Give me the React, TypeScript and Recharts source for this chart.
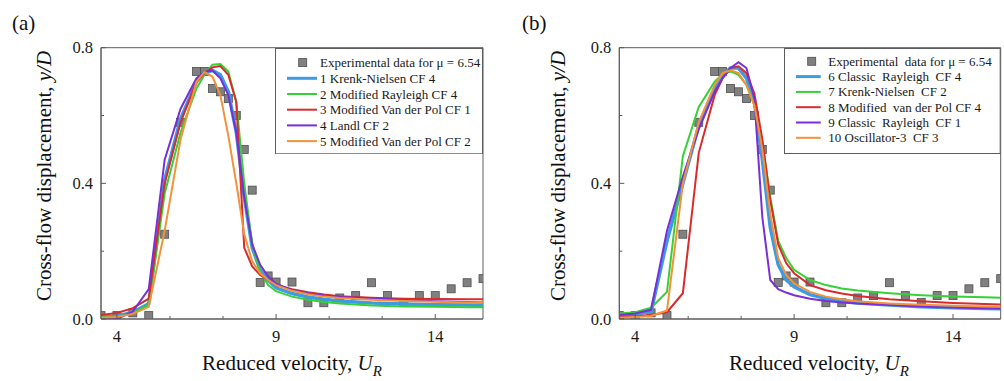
import React from "react";
import { ComposedChart, Line, Scatter, XAxis, YAxis, ReferenceArea, Legend } from "recharts";

// reduced velocity grid used by the model curves
const UR = [3.5, 4, 4.5, 5, 5.5, 6, 6.5, 6.75, 7, 7.25, 7.5, 7.75, 8, 8.25, 8.5, 8.75, 9, 9.5, 10, 10.5, 11, 12, 13, 14, 15, 15.5];

// experimental points (mu = 6.54)
const expUR = [3.5, 4, 4.5, 5, 5.5, 6, 6.5, 6.75, 7, 7.25, 7.5, 7.75, 8, 8.25, 8.5, 8.75, 9, 9.5, 10, 10.5, 11, 11.5, 12, 12.5, 13, 13.5, 14, 14.5, 15, 15.5];
const expY = [0.01, 0.01, 0.018, 0.01, 0.25, 0.58, 0.73, 0.73, 0.68, 0.67, 0.65, 0.6, 0.5, 0.38, 0.108, 0.127, 0.109, 0.109, 0.048, 0.048, 0.062, 0.069, 0.107, 0.069, 0.049, 0.069, 0.069, 0.089, 0.107, 0.119];

// panel (a)
const a1 = [0.006, 0.008, 0.02, 0.045, 0.41, 0.59, 0.7, 0.725, 0.733, 0.72, 0.67, 0.55, 0.36, 0.21, 0.145, 0.115, 0.092, 0.075, 0.065, 0.058, 0.053, 0.047, 0.044, 0.042, 0.041, 0.04];
const a2 = [0.005, 0.007, 0.018, 0.042, 0.37, 0.55, 0.68, 0.72, 0.75, 0.752, 0.73, 0.64, 0.4, 0.22, 0.14, 0.1, 0.082, 0.066, 0.057, 0.05, 0.046, 0.04, 0.037, 0.036, 0.035, 0.035];
const a3 = [0.012, 0.018, 0.032, 0.06, 0.4, 0.58, 0.7, 0.725, 0.742, 0.746, 0.72, 0.64, 0.21, 0.155, 0.13, 0.115, 0.1, 0.088, 0.079, 0.072, 0.067, 0.063, 0.06, 0.059, 0.058, 0.058];
const a4 = [0, 0, 0.022, 0.088, 0.47, 0.62, 0.71, 0.728, 0.733, 0.71, 0.66, 0.55, 0.36, 0.22, 0.16, 0.125, 0.104, 0.085, 0.076, 0.069, 0.065, 0.061, 0.056, 0.052, 0.05, 0.049];
const a5 = [0.004, 0.006, 0.015, 0.036, 0.26, 0.53, 0.7, 0.728, 0.715, 0.66, 0.54, 0.4, 0.25, 0.17, 0.135, 0.115, 0.1, 0.083, 0.073, 0.066, 0.062, 0.057, 0.053, 0.051, 0.049, 0.049];

// panel (b)
const b6 = [0.01, 0.014, 0.022, 0.23, 0.4, 0.57, 0.68, 0.72, 0.74, 0.74, 0.71, 0.64, 0.47, 0.27, 0.16, 0.115, 0.095, 0.072, 0.06, 0.052, 0.047, 0.041, 0.036, 0.033, 0.031, 0.03];
const b7 = [0.016, 0.02, 0.033, 0.08, 0.48, 0.625, 0.7, 0.722, 0.73, 0.72, 0.69, 0.63, 0.52, 0.36, 0.23, 0.18, 0.145, 0.115, 0.1, 0.09, 0.084, 0.076, 0.07, 0.066, 0.064, 0.063];
const b8 = [0.005, 0.008, 0.012, 0.02, 0.076, 0.49, 0.66, 0.71, 0.74, 0.745, 0.725, 0.665, 0.53, 0.35, 0.22, 0.165, 0.135, 0.1, 0.085, 0.075, 0.068, 0.058, 0.052, 0.047, 0.044, 0.043];
const b9 = [0.012, 0.016, 0.027, 0.26, 0.42, 0.56, 0.67, 0.71, 0.74, 0.757, 0.74, 0.65, 0.3, 0.115, 0.088, 0.078, 0.07, 0.06, 0.053, 0.049, 0.046, 0.041, 0.037, 0.034, 0.032, 0.031];
const b10 = [0.004, 0.006, 0.009, 0.025, 0.4, 0.58, 0.69, 0.725, 0.733, 0.725, 0.69, 0.63, 0.5, 0.31, 0.18, 0.13, 0.105, 0.08, 0.066, 0.058, 0.052, 0.046, 0.042, 0.039, 0.037, 0.036];

const xMajor = [4, 9, 14];
const xMinor = [5.667, 7.333, 10.667, 12.333];
const yMajor = [0, 0.4, 0.8];
const yMinor = [0.2, 0.6];

const BLUE = "#3d9be3";
const GREEN = "#36d136";
const RED = "#d92b2b";
const PURPLE = "#7a2fd6";
const ORANGE = "#f2923a";
const AXIS = "#5c5c5c";
const SERIF = { fontFamily: "'Liberation Serif', 'Times New Roman', 'DejaVu Serif', serif" };

const seriesA = [
  { name: "1 Krenk-Nielsen CF 4", color: BLUE, w: 3.5, y: a1 },
  { name: "2 Modified Rayleigh CF 4", color: GREEN, w: 2, y: a2 },
  { name: "3 Modified Van der Pol CF 1", color: RED, w: 2, y: a3 },
  { name: "4 Landl CF 2", color: PURPLE, w: 2, y: a4 },
  { name: "5 Modified Van der Pol CF 2", color: ORANGE, w: 2, y: a5 },
];
const seriesB = [
  { name: "6 Classic\u00a0 Rayleigh\u00a0 CF 4", color: BLUE, w: 3.5, y: b6 },
  { name: "7 Krenk-Nielsen\u00a0 CF 2", color: GREEN, w: 2, y: b7 },
  { name: "8 Modified\u00a0 van der Pol CF 4", color: RED, w: 2, y: b8 },
  { name: "9 Classic\u00a0 Rayleigh\u00a0 CF 1", color: PURPLE, w: 2, y: b9 },
  { name: "10 Oscillator-3\u00a0 CF 3", color: ORANGE, w: 2, y: b10 },
];

const isIn = (arr: number[], v: number) => arr.some((a) => Math.abs(a - v) < 1e-6);

function XTick(props: any) {
  const { x, y, payload } = props;
  const major = isIn(xMajor, payload.value);
  return (
    <g>
      <line x1={x} x2={x} y1={y} y2={y - (major ? 5 : 3)} stroke={AXIS} />
      {major && (
        <text x={x} y={y + 22.5} textAnchor="middle" style={SERIF} fontSize={16.5} fill="#1a1a1a">
          {payload.value}
        </text>
      )}
    </g>
  );
}

function YTick(props: any) {
  const { x, y, payload } = props;
  const major = isIn(yMajor, payload.value);
  return (
    <g>
      <line x1={x} x2={x + (major ? 5 : 3)} y1={y} y2={y} stroke={AXIS} />
      {major && (
        <text x={x - 8} y={y + 5.5} textAnchor="end" style={SERIF} fontSize={16.5} fill="#1a1a1a">
          {payload.value.toFixed(1)}
        </text>
      )}
    </g>
  );
}

function Square(props: any) {
  const { cx, cy } = props;
  return <rect x={cx - 4} y={cy - 4} width={8} height={8} fill="#808080" stroke="#4f4f4f" strokeWidth={0.8} />;
}

function LegendBox({ items, expLabel, box }: any) {
  return (
    <svg width={box.w} height={box.h} style={{ display: "block" }}>
      <rect x={0.5} y={0.5} width={box.w - 1} height={box.h - 1} fill="#fff" stroke={AXIS} />
      <rect x={box.sq - 4} y={box.row0 - 4} width={8} height={8} fill="#808080" stroke="#4f4f4f" strokeWidth={0.8} />
      <text x={box.tx} y={box.row0 + 4.5} style={SERIF} fontSize={13} fill="#1a1a1a">
        {expLabel}
      </text>
      {items.map((s: any, i: number) => {
        const cy = box.row0 + box.gap * (i + 1);
        return (
          <g key={s.name}>
            <line x1={box.l0} x2={box.l1} y1={cy} y2={cy} stroke={s.color} strokeWidth={s.w === 2 ? 2 : 3} />
            <text x={box.tx} y={cy + 4.5} style={SERIF} fontSize={13} fill="#1a1a1a">
              {s.name}
            </text>
          </g>
        );
      })}
    </svg>
  );
}

function Panel({ tag, series, expLabel, cfg }: any) {
  const expData = expUR.map((x, i) => ({ x, y: expY[i] }));
  return (
    <div style={{ position: "absolute", left: cfg.left, top: 0 }}>
      <ComposedChart width={cfg.width} height={381} margin={{ top: 47.7, right: cfg.right, bottom: 0, left: 0 }}>
        <XAxis
          type="number"
          dataKey="x"
          domain={[3.5, 15.5]}
          ticks={[...xMajor, ...xMinor].sort((p, q) => p - q)}
          interval={0}
          allowDataOverflow
          height={62}
          stroke={AXIS}
          tickSize={0}
          tickMargin={0}
          tickLine={false}
          tick={<XTick />}
          label={{
            content: () => (
              <text x={cfg.xTitleX} y={370} textAnchor="middle" style={SERIF} fontSize={21} fill="#111">
                Reduced velocity, <tspan fontStyle="italic">U</tspan>
                <tspan fontStyle="italic" fontSize={15} dy={6}>R</tspan>
              </text>
            ),
          }}
        />
        <YAxis
          type="number"
          domain={[0, 0.8]}
          ticks={[...yMajor, ...yMinor].sort((p, q) => p - q)}
          interval={0}
          allowDataOverflow
          width={cfg.yw}
          stroke={AXIS}
          tickSize={0}
          tickMargin={0}
          tickLine={false}
          tick={<YTick />}
          label={{
            content: () => (
              <g>
                <text x={cfg.tagX} y={29.5} style={SERIF} fontSize={21} fill="#111">
                  {tag}
                </text>
                <text
                  transform={`translate(${cfg.yTitleX},176) rotate(-90)`}
                  textAnchor="middle"
                  style={SERIF}
                  fontSize={21}
                  fill="#111"
                >
                  Cross-flow displacement, <tspan fontStyle="italic">y/D</tspan>
                </text>
              </g>
            ),
          }}
        />
        <ReferenceArea x1={3.5} x2={15.5} y1={0} y2={0.8} fill="none" fillOpacity={0} stroke={AXIS} strokeWidth={1} />
        <Scatter
          data={expData}
          dataKey="y"
          name={expLabel}
          shape={<Square />}
          zIndex={300}
          isAnimationActive={false}
        />
        {series.map((s: any) => (
          <Line
            key={s.name}
            data={UR.map((x, i) => ({ x, y: s.y[i] }))}
            dataKey="y"
            name={s.name}
            type="linear"
            stroke={s.color}
            strokeWidth={s.w}
            dot={false}
            activeDot={false}
            isAnimationActive={false}
          />
        ))}
        <Legend
          layout="horizontal"
          verticalAlign="middle"
          align="center"
          wrapperStyle={{ left: cfg.legend.x, top: cfg.legend.y, width: cfg.legend.w, height: cfg.legend.h }}
          content={() => <LegendBox items={series} expLabel={expLabel} box={cfg.legend} />}
        />
      </ComposedChart>
    </div>
  );
}

const cfgA = {
  left: 0,
  width: 500,
  right: 17,
  yw: 101,
  xTitleX: 292,
  yTitleX: 51,
  tagX: 12,
  legend: { x: 275, y: 47.7, w: 208, h: 106.3, row0: 14.6, gap: 15.7, l0: 12, l1: 42, sq: 27.7, tx: 45 },
};
const cfgB = {
  left: 500,
  width: 504,
  right: 3.3,
  yw: 119.3,
  xTitleX: 319,
  yTitleX: 65,
  tagX: 22,
  legend: { x: 284, y: 47.7, w: 216.7, h: 106, row0: 13.3, gap: 15.3, l0: 12, l1: 36.7, sq: 27.7, tx: 44.3 },
};

export default function App() {
  return (
    <div style={{ position: "absolute", left: 0, top: 0, width: 1004, height: 381, background: "#fff" }}>
      <Panel tag="(a)" series={seriesA} expLabel="Experimental data for μ = 6.54" cfg={cfgA} />
      <Panel tag="(b)" series={seriesB} expLabel={"Experimental\u00a0 data for μ = 6.54"} cfg={cfgB} />
    </div>
  );
}
